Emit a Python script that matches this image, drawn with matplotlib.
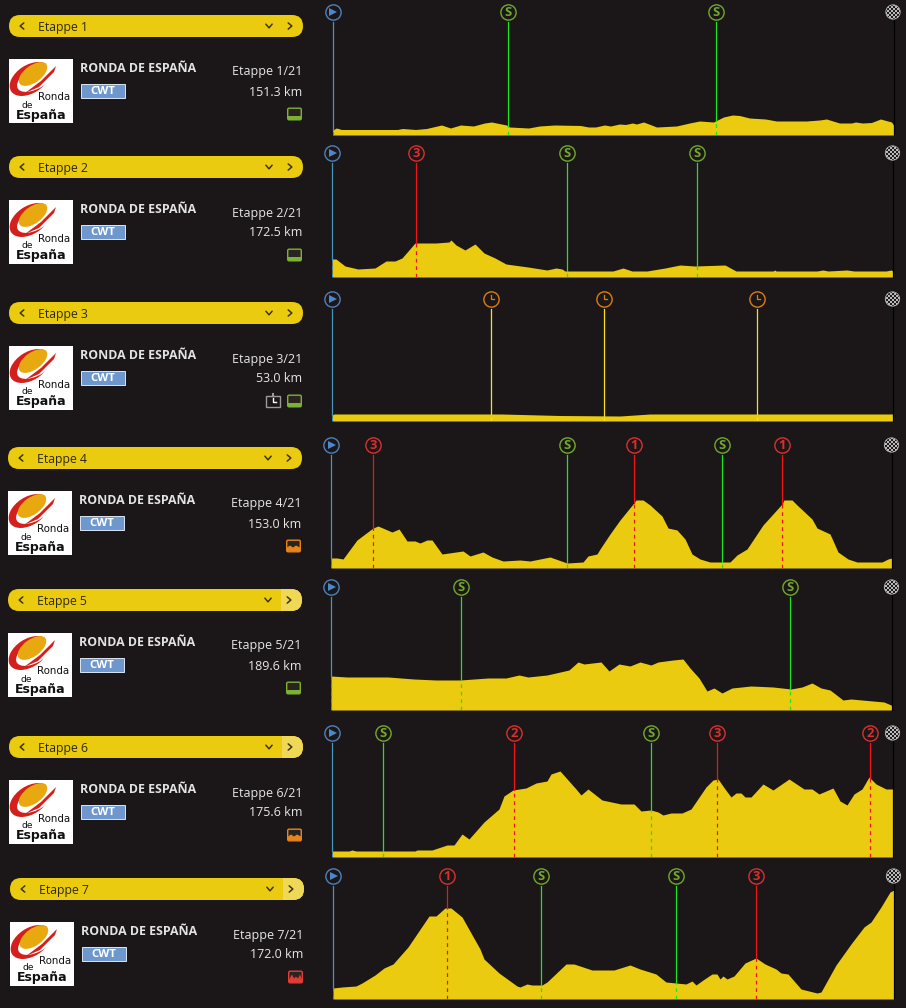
import numpy as np
import matplotlib
matplotlib.use("Agg")
import matplotlib.pyplot as plt
from matplotlib.patches import FancyBboxPatch, Rectangle, Ellipse, Circle, Polygon

W, H = 906, 1008
BG = "#1b1719"
YELLOW = "#ebcb0f"
plt.rcParams["font.family"] = ["Open Sans", "DejaVu Sans"]

# ---------- data (route position in profile units, 561 = finish; relative height) ----------
stage_names = ["Etappe 1", "Etappe 2", "Etappe 3", "Etappe 4", "Etappe 5", "Etappe 6", "Etappe 7"]
stage_counts = ["Etappe 1/21", "Etappe 2/21", "Etappe 3/21", "Etappe 4/21", "Etappe 5/21", "Etappe 6/21", "Etappe 7/21"]
stage_dist = ["151.3 km", "172.5 km", "53.0 km", "153.0 km", "189.6 km", "175.6 km", "172.0 km"]
stage_type = ["flat", "flat", "flat_tt", "hilly", "flat", "hilly", "mountain"]

p1 = [0, 4, 9, 65, 70, 83, 94, 109, 118, 128, 141, 152, 159, 174, 177, 196, 207, 222, 248, 256, 263, 272, 278, 287, 293, 300, 304, 311, 319, 324, 344, 357, 367, 381, 391, 400, 407, 417, 433, 444, 474, 487, 494, 507, 519, 523, 530, 539, 548, 559, 561]
e1 = [5, 7, 5.5, 5.5, 6.5, 5.5, 6.5, 10, 7, 10, 9, 12, 13, 10, 8, 7, 9, 10, 9.5, 8, 8, 10, 9, 11, 10.5, 12, 11, 13, 10, 8, 9, 12, 14, 13, 18, 20, 19.5, 17, 16, 14, 14, 15, 16, 12, 12, 13, 12, 12.5, 16, 13, 10]
p2 = [0, 4, 13, 26, 43, 54, 63, 70, 83, 104, 117, 119, 124, 133, 143, 152, 163, 174, 196, 215, 224, 230, 233, 281, 291, 300, 315, 333, 348, 363, 393, 404, 441, 443, 444, 485, 491, 496, 515, 522, 554, 559, 561]
e2 = [18, 18, 11, 8, 9, 16, 16, 19, 34, 34, 35, 37, 32, 27, 33, 24, 19, 13, 10, 7, 9, 8, 6, 6, 9, 6, 6, 9, 12, 11, 12, 6, 6, 7, 6, 6, 7, 6, 7, 6, 6, 7, 6]
p3 = [0, 2, 159, 170, 228, 288, 318, 561]
e3 = [6, 7, 7, 7, 5.5, 5, 7, 7]
p4 = [0, 6, 12, 26, 42, 47, 61, 68, 76, 84, 89, 96, 101, 111, 132, 139, 152, 161, 172, 189, 199, 219, 236, 252, 257, 266, 269, 279, 289, 302, 305, 312, 319, 331, 337, 346, 354, 361, 369, 379, 399, 406, 416, 432, 451, 453, 461, 466, 481, 486, 499, 507, 517, 526, 551, 557, 561]
e4 = [10, 10, 9, 28, 40, 42, 36, 39, 27, 27, 25, 28, 28, 14, 17, 12, 16, 11, 7, 8, 7, 11, 5, 6, 12, 14, 19, 34, 48, 64, 68, 68, 63, 52, 40, 38, 29, 14, 9, 6, 6, 13, 19, 43, 64, 68, 68, 63, 49, 40, 34, 16, 9, 6, 6, 9, 10]
p5 = [0, 16, 57, 83, 105, 129, 157, 175, 188, 197, 216, 238, 247, 253, 270, 278, 288, 299, 309, 320, 327, 342, 352, 359, 368, 376, 383, 391, 401, 420, 442, 460, 471, 481, 490, 499, 512, 520, 553, 560, 561]
e5 = [34, 33, 33, 31, 30, 30, 32, 32, 35, 33, 35, 40, 48, 46, 48, 39, 46, 44, 48, 45, 48, 50, 51, 42, 32, 19, 22, 17, 22, 24, 23, 21, 23, 27, 22, 20, 10, 11, 8, 5, 5]
p6 = [0, 17, 20, 24, 83, 85, 100, 115, 122, 130, 137, 152, 167, 172, 181, 194, 204, 215, 219, 228, 244, 249, 256, 270, 289, 302, 309, 319, 326, 331, 339, 350, 359, 374, 381, 386, 393, 399, 404, 409, 413, 419, 431, 441, 457, 472, 480, 487, 501, 508, 515, 522, 530, 537, 544, 554, 561]
e6 = [6, 6, 7, 6, 6, 7, 7, 12, 12, 23, 18, 35, 48, 61, 67, 69, 74, 76, 83, 86, 68, 62, 68, 57, 53, 53, 46, 47, 45, 42, 44, 44, 48, 70, 77, 78, 68, 60, 64, 64, 60, 60, 73, 67, 78, 68, 68, 63, 69, 56, 52, 63, 68, 80, 73, 68, 68]
p7 = [0, 9, 23, 29, 42, 51, 60, 75, 96, 103, 112, 118, 129, 147, 151, 166, 184, 187, 194, 199, 209, 214, 233, 241, 259, 281, 297, 307, 323, 333, 353, 359, 363, 370, 379, 384, 387, 390, 394, 401, 412, 423, 432, 443, 448, 455, 468, 484, 488, 503, 518, 531, 538, 548, 557, 561]
e7 = [11, 12, 13, 16, 24, 31, 35, 52, 83, 83, 91, 91, 82, 50, 40, 26, 13, 12, 15, 14, 14, 17, 35, 35, 29, 29, 34, 30, 25, 17, 15, 18, 14, 19, 25, 25, 20, 23, 20, 23, 36, 41, 35, 30, 26, 25, 10, 6, 7, 34, 55, 72, 77, 92, 107, 109]

m1_pos, m1_kind = [175.5, 383.5], ["S", "S"]
m2_pos, m2_kind = [84, 235, 365], ["3", "S", "S"]
m3_pos, m3_kind = [159, 272, 425], ["T", "T", "T"]
m4_pos, m4_kind = [42, 236, 303, 391, 451], ["3", "S", "1", "S", "1"]
m5_pos, m5_kind = [130, 459], ["S", "S"]
m6_pos, m6_kind = [51, 182, 319, 385, 538], ["S", "2", "S", "3", "2"]
m7_pos, m7_kind = [114, 208, 343, 423], ["1", "S", "S", "3"]

profiles = [(p1, e1), (p2, e2), (p3, e3), (p4, e4), (p5, e5), (p6, e6), (p7, e7)]
marks = [(m1_pos, m1_kind), (m2_pos, m2_kind), (m3_pos, m3_kind), (m4_pos, m4_kind),
         (m5_pos, m5_kind), (m6_pos, m6_kind), (m7_pos, m7_kind)]

# ---------- layout (picture pixels) ----------
pill_cy = [26, 167, 313, 458, 600, 747, 889]
row_dx = [0, 0, 0, -1, -1, 0, 1]
profile_x0 = [332.5, 332, 332, 331, 331, 332, 333]
baseline = [135, 277, 421, 568, 710, 857, 999]
icon_y = [12, 153, 299, 445, 587, 733, 876]
pill_light = [False, False, False, False, True, True, True]
ROUTE = 561

fig = plt.figure(figsize=(W / 100, H / 100), dpi=100, facecolor=BG)
ui = fig.add_axes([0, 0, 1, 1])
ui.set_xlim(0, W)
ui.set_ylim(H, 0)
ui.axis("off")


def chevron(x, y, kind, color="#3f3508"):
    s = 2.6
    if kind == "<":
        xs, ys = [x + s * 0.7, x - s * 0.7, x + s * 0.7], [y - s * 1.2, y, y + s * 1.2]
    elif kind == ">":
        xs, ys = [x - s * 0.7, x + s * 0.7, x - s * 0.7], [y - s * 1.2, y, y + s * 1.2]
    else:
        xs, ys = [x - s * 1.2, x, x + s * 1.2], [y - s * 0.7, y + s * 0.7, y - s * 0.7]
    ui.plot(xs, ys, color=color, lw=1.1, solid_capstyle="round", zorder=5)


def logo(x, y):
    ui.add_patch(Rectangle((x, y), 64, 64, fc="white", ec="none", zorder=2))
    ui.add_patch(Ellipse((x + 21, y + 20), 45, 28, angle=-33, fc="#d3201c", ec="none", zorder=3))
    ui.add_patch(Ellipse((x + 27, y + 19), 42, 21, angle=-30, fc="white", ec="none", zorder=3))
    ui.add_patch(Polygon([[x + 47, y + 7], [x + 45, y + 13], [x + 30, y + 28], [x + 16, y + 34], [x + 32, y + 22]],
                         fc="#d3201c", ec="none", zorder=3))
    ui.add_patch(Ellipse((x + 24, y + 15), 33, 17, angle=-36, fc="#e7a90f", ec="none", zorder=4))
    ui.text(x + 45, y + 38.5, "Ronda", fontsize=7.4, family="DejaVu Sans", color="#111111", ha="center", va="center", zorder=5)
    ui.text(x + 18, y + 46, "de", fontsize=6.6, family="DejaVu Sans", color="#111111", ha="center", va="center", zorder=5)
    ui.text(x + 32, y + 56, "España", fontsize=9, family="DejaVu Sans", color="#111111", weight="bold", ha="center", va="center", zorder=5)


def type_icon(x, y, kind):
    col = {"flat": "#7cb234", "flat_tt": "#7cb234", "hilly": "#e8851a", "mountain": "#e23c37"}[kind]
    ui.add_patch(FancyBboxPatch((x + 0.7, y + 0.7), 13.6, 11.6, boxstyle="round,pad=0,rounding_size=1.4",
                                fc="#2a2420", ec=col, lw=1, zorder=3))
    if kind.startswith("flat"):
        poly = [[x + 1, y + 8], [x + 14, y + 8], [x + 14, y + 12], [x + 1, y + 12]]
    elif kind == "hilly":
        poly = [[x + 1, y + 8], [x + 4, y + 6], [x + 7, y + 8], [x + 10, y + 6], [x + 14, y + 8], [x + 14, y + 12], [x + 1, y + 12]]
    else:
        poly = [[x + 1, y + 9], [x + 4, y + 4], [x + 6, y + 8], [x + 8, y + 6], [x + 10, y + 8], [x + 12, y + 4], [x + 14, y + 9], [x + 14, y + 12], [x + 1, y + 12]]
    ui.add_patch(Polygon(poly, fc=col, ec="none", zorder=4))


def tt_icon(x, y):
    c = "#9a9a98"
    ui.add_patch(Rectangle((x + 0.5, y + 1.5), 14, 11.5, fc="none", ec=c, lw=1, zorder=3))
    ui.plot([x + 7.5, x + 7.5, x + 10.5], [y + 4, y + 8, y + 8], color="white", lw=1, zorder=4)
    ui.plot([x + 7.5, x + 7.5], [y, y + 2], color=c, lw=1.5, zorder=4)


for i in range(7):
    dx, cy = row_dx[i], pill_cy[i]
    x0 = 9 + dx
    pill = FancyBboxPatch((x0, cy - 11), 294, 22, boxstyle="round,pad=0,rounding_size=11", fc=YELLOW, ec="none", zorder=2)
    ui.add_patch(pill)
    if pill_light[i]:
        light = Rectangle((x0 + 273, cy - 11), 21, 22, fc="#f0d857", ec="none", zorder=3)
        ui.add_patch(light)
        light.set_clip_path(pill)
    chevron(x0 + 13, cy, "<")
    chevron(x0 + 260, cy, "v")
    chevron(x0 + 281, cy, ">")
    ui.text(x0 + 29, cy + 1.2, stage_names[i], fontsize=8.8, color="#2e2a10", ha="left", va="center", zorder=5)

    logo(x0, cy + 33)
    ui.text(80 + dx, cy + 42.3, "RONDA DE ESPAÑA", fontsize=8.9, weight="bold", color="#e3e3e3", ha="left", va="center")
    ui.add_patch(Rectangle((80.5 + dx, cy + 57.5), 44, 14, fc="#6d97cd", ec="#dbe6f3", lw=0.7, zorder=3))
    ui.text(102.5 + dx, cy + 65.2, "CWT", fontsize=8.2, weight="bold", color="white", ha="center", va="center", zorder=4)
    ui.text(302.5 + dx, cy + 46, stage_counts[i], fontsize=9, color="#e6e6e6", ha="right", va="center")
    ui.text(302.5 + dx, cy + 66, stage_dist[i], fontsize=9, color="#e6e6e6", ha="right", va="center")
    type_icon(287 + dx, cy + 81.5, stage_type[i])
    if stage_type[i] == "flat_tt":
        tt_icon(265 + dx, cy + 81)

KIND_COL = {"S": "#72a92c", "1": "#d9302e", "2": "#d9302e", "3": "#d9302e", "T": "#dc7d10"}
LINE_COL = {"S": "#1fe51f", "1": "#f01414", "2": "#f01414", "3": "#f01414", "T": "#f4e31c"}

for i in range(7):
    top = baseline[i] - icon_y[i]
    ax = fig.add_axes([profile_x0[i] / W, 1 - baseline[i] / H, ROUTE / W, top / H])
    ax.set_xlim(0, ROUTE)
    ax.set_ylim(0, top)
    ax.axis("off")
    ax.patch.set_alpha(0)
    pos, elev = profiles[i]
    ax.fill_between(pos, 0, elev, color=YELLOW, lw=0, zorder=2, antialiased=False)

    def mark(x, line, dash, edge):
        h = np.interp(x, pos, elev)
        ax.plot([x, x], [h, top - 10], color=line, lw=0.9, zorder=3, clip_on=False)
        ax.plot([x, x], [0, h], color=dash, lw=0.9, dashes=(3, 3), zorder=3)
        ax.plot([x], [top], "o", ms=11, mfc=BG, mec=edge, mew=1.0, zorder=4, clip_on=False)

    # start
    mark(0, "#4795b5", "#3f8fd0", "#4f80b8")
    ax.plot([0.6], [top], ">", ms=5.2, color="#4f86c6", mew=0, zorder=5, clip_on=False)
    # intermediate points
    m_pos, m_kind = marks[i]
    for x, k in zip(m_pos, m_kind):
        mark(x, LINE_COL[k], LINE_COL[k], KIND_COL[k])
        if k == "T":
            ax.plot([x, x, x + 2.6], [top + 4, top, top], color=KIND_COL[k], lw=0.9, zorder=5, clip_on=False)
        else:
            ax.text(x, top - 0.8, k, fontsize=9.4, weight="bold", color=KIND_COL[k], ha="center", va="center", zorder=5, clip_on=False)
    # finish
    ax.plot([ROUTE, ROUTE], [0, top - 8], color="black", lw=0.9, zorder=3, clip_on=False)
    fx = ROUTE - 0.5
    disc = Circle((fx, top), 7.6, fc="#b9b9b9", ec="none", zorder=4, clip_on=False)
    ax.add_patch(disc)
    for a in range(-4, 4):
        for b in range(-4, 4):
            if (a + b) % 2 == 0:
                sq = Rectangle((fx + a * 2, top + b * 2), 2, 2, fc="#1f1d1e", ec="none", zorder=5)
                ax.add_patch(sq)
                sq.set_clip_box(None)
                sq.set_clip_path(Circle((fx, top), 6.8, transform=ax.transData))

fig.savefig("out.png", dpi=100, facecolor=BG)
